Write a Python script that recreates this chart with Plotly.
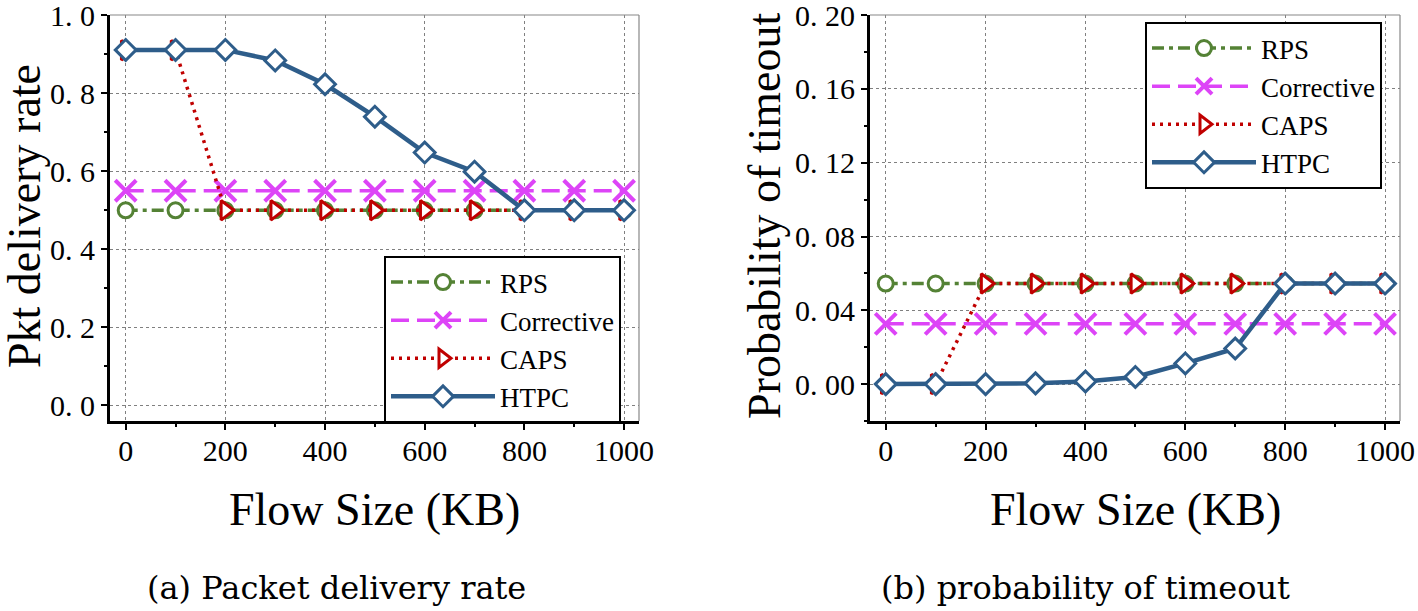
import plotly.graph_objects as go

# ---- data -------------------------------------------------------------
flow_kb = [0, 100, 200, 300, 400, 500, 600, 700, 800, 900, 1000]

pdr_rps = [0.50] * 11
pdr_corrective = [0.55] * 11
pdr_caps = [0.91, 0.91, 0.50, 0.50, 0.50, 0.50, 0.50, 0.50, 0.50, 0.50, 0.50]
pdr_htpc = [0.911, 0.911, 0.911, 0.884, 0.823, 0.740, 0.648, 0.599, 0.50, 0.50, 0.50]

tout_rps = [0.0545] * 11
tout_corrective = [0.0327] * 11
tout_caps = [0.0, 0.0, 0.0545, 0.0545, 0.0545, 0.0545, 0.0545, 0.0545, 0.0545, 0.0545, 0.0545]
tout_htpc = [0.0, 0.0, 0.0, 0.0004, 0.0014, 0.0039, 0.0112, 0.0193, 0.0545, 0.0545, 0.0545]

x_ticks = [0, 200, 400, 600, 800, 1000]
pdr_ticks = [0.0, 0.2, 0.4, 0.6, 0.8, 1.0]
pdr_ticktext = ["0. 0", "0. 2", "0. 4", "0. 6", "0. 8", "1. 0"]
tout_ticks = [0.0, 0.04, 0.08, 0.12, 0.16, 0.20]
tout_ticktext = ["0. 00", "0. 04", "0. 08", "0. 12", "0. 16", "0. 20"]

W, H = 1418, 611
FONT = "Liberation Serif, Times New Roman, Times, serif"
CAPTION_FONT = "DejaVu Serif, serif"

styles = {
    "RPS": dict(color="#548235", dash="12px,5px,4px,5px", symbol="circle", size=15),
    "Corrective": dict(color="#DD44F7", dash="18px,8px", symbol="x-thin", size=21),
    "CAPS": dict(color="#C00000", dash="3px,5px", symbol="triangle-right", size=17),
    "HTPC": dict(color="#2E5D8A", dash="solid", symbol="diamond", size=16),
}


def add_series(fig, name, y, xaxis, yaxis, legend):
    st = styles[name]
    is_x = st["symbol"] == "x-thin"
    fig.add_trace(go.Scatter(
        x=flow_kb, y=y, name=name, mode="lines+markers",
        xaxis=xaxis, yaxis=yaxis, legend=legend,
        line=dict(color=st["color"], width=4.5 if name == "HTPC" else 3.5, dash=st["dash"]),
        marker=dict(
            symbol=st["symbol"], size=st["size"],
            color=st["color"] if is_x else "white",
            line=dict(color=st["color"], width=4 if is_x else 3),
        ),
    ))


fig = go.Figure()
for name, y in [("RPS", pdr_rps), ("Corrective", pdr_corrective),
                ("CAPS", pdr_caps), ("HTPC", pdr_htpc)]:
    add_series(fig, name, y, "x", "y", "legend")
for name, y in [("RPS", tout_rps), ("Corrective", tout_corrective),
                ("CAPS", tout_caps), ("HTPC", tout_htpc)]:
    add_series(fig, name, y, "x2", "y2", "legend2")

tick_font = dict(family=FONT, size=30, color="black")


def xaxis_cfg(x0, x1):
    return dict(
        domain=[x0 / W, x1 / W], range=[-31.5, 1030], automargin=False,
        tickvals=x_ticks, tickfont=tick_font, ticklabelstandoff=-5,
        ticklabeloverflow="allow",
        ticks="outside", ticklen=6, tickwidth=2, tickcolor="black",
        minor=dict(dtick=100, tick0=0, ticks="outside", ticklen=3, tickwidth=1.5,
                   tickcolor="black", showgrid=False),
        showline=True, linecolor="black", linewidth=3, mirror=False,
        showgrid=True, gridcolor="#808080", gridwidth=1, griddash="3px,3px",
        zeroline=False,
    )


def yaxis_cfg(rng, vals, text, minor_dt, anchor):
    return dict(
        domain=[1 - 421 / H, 1 - 15 / H], range=rng, anchor=anchor, automargin=False,
        tickvals=vals, ticktext=text, tickfont=tick_font,
        ticklabeloverflow="allow",
        ticks="outside", ticklen=6, tickwidth=2, tickcolor="black",
        minor=dict(dtick=minor_dt, tick0=0, ticks="outside", ticklen=3, tickwidth=1.5,
                   tickcolor="black", showgrid=False),
        showline=True, linecolor="black", linewidth=3, mirror=False,
        showgrid=True, gridcolor="#808080", gridwidth=1, griddash="3px,3px",
        zeroline=False,
    )


legend_common = dict(
    font=dict(family=FONT, size=27, color="black"),
    bgcolor="white", bordercolor="black", borderwidth=2,
    itemwidth=104, tracegroupgap=0, xanchor="left", yanchor="top",
)

# thin grey top/right frame edges
frame = []
for xa, ya in [("x", "y"), ("x2", "y2")]:
    frame.append(dict(type="line", xref=f"{xa} domain", yref=f"{ya} domain",
                      x0=0, x1=1, y0=1, y1=1, line=dict(color="#888", width=1.2)))
    frame.append(dict(type="line", xref=f"{xa} domain", yref=f"{ya} domain",
                      x0=1, x1=1, y0=0, y1=1, line=dict(color="#888", width=1.2)))


def ann(text, px, py, size, angle=0, family=FONT):
    return dict(text=text, x=px / W, y=1 - py / H, xref="paper", yref="paper",
                showarrow=False, textangle=angle, xanchor="center", yanchor="middle",
                font=dict(family=family, size=size, color="black"))


fig.update_layout(
    width=W, height=H,
    margin=dict(l=0, r=0, t=0, b=0, autoexpand=False),
    paper_bgcolor="white", plot_bgcolor="white",
    showlegend=True,
    xaxis=xaxis_cfg(110, 639),
    yaxis=yaxis_cfg([-0.04, 1.0005], pdr_ticks, pdr_ticktext, 0.1, "x"),
    xaxis2=xaxis_cfg(870, 1400) | dict(anchor="y2"),
    yaxis2=yaxis_cfg([-0.02, 0.2001], tout_ticks, tout_ticktext, 0.02, "x2"),
    legend=legend_common | dict(x=384 / W, y=1 - 256 / H),
    legend2=legend_common | dict(x=1145 / W, y=1 - 22 / H),
    shapes=frame,
    annotations=[
        ann("Pkt delivery rate", 24, 216, 46, -90),
        ann("Probability of timeout", 764, 216, 46, -90),
        ann("Flow Size (KB)", 375, 509, 46),
        ann("Flow Size (KB)", 1135, 509, 46),
        ann("(a) Packet delivery rate", 336, 588, 32, family=CAPTION_FONT),
        ann("(b) probability of timeout", 1085, 588, 32, family=CAPTION_FONT),
    ],
)

fig.write_html("out.html", config={"displayModeBar": False},
               post_script="document.body.style.margin = '0';")
